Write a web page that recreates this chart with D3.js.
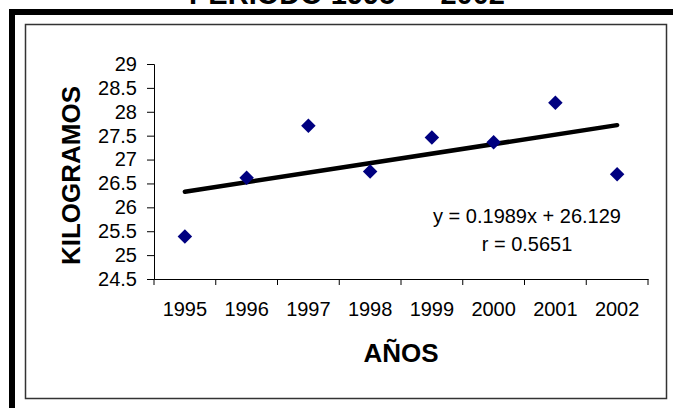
<!DOCTYPE html>
<html>
<head>
<meta charset="utf-8">
<script src="https://cdn.jsdelivr.net/npm/d3@7"></script>
<style>
  body { margin: 0; background: #fff; }
  text { font-family: Arial, "Liberation Sans", sans-serif; }
</style>
</head>
<body>
<script>
var years = ["1995", "1996", "1997", "1998", "1999", "2000", "2001", "2002"];
var kilos = [25.39, 26.62, 27.71, 26.75, 27.46, 27.36, 28.19, 26.69];
var yTicks = [24.5, 25, 25.5, 26, 26.5, 27, 27.5, 28, 28.5, 29];
// trend line coefficients as printed on the chart (x = 1..8)
var slope = 0.1989;
var intercept = 26.129;
var trendLabel = ["y = 0.1989x + 26.129", "r = 0.5651"];

var width = 673, height = 408;
var plot = {left: 154, right: 648, top: 64, bottom: 279};

var svg = d3.select("body").append("svg")
    .attr("width", width)
    .attr("height", height);

// outer thick frame (only top and left are in view)
svg.append("rect")
    .attr("x", 12).attr("y", 12)
    .attr("width", 720).attr("height", 440)
    .attr("fill", "none")
    .attr("stroke", "#000")
    .attr("stroke-width", 6);

// title, mostly cut off at the top
svg.append("text")
    .attr("x", 347).attr("y", 4)
    .attr("text-anchor", "middle")
    .style("font-size", "29px")
    .style("font-weight", "bold")
    .text("PERIODO 1995 — 2002");

// inner chart box
svg.append("rect")
    .attr("x", 25.5).attr("y", 24.5)
    .attr("width", 641).attr("height", 374)
    .attr("fill", "#fff")
    .attr("stroke", "#333")
    .attr("stroke-width", 1.5);

var x = d3.scaleBand()
    .domain(years)
    .range([plot.left, plot.right])
    .padding(0);

var y = d3.scaleLinear()
    .domain([24.5, 29])
    .range([plot.bottom, plot.top]);

// y axis
var yAxis = svg.append("g")
    .attr("transform", "translate(" + plot.left + ",0)")
    .call(d3.axisLeft(y).tickValues(yTicks).tickSize(7).tickPadding(10).tickFormat(d3.format("")));
yAxis.select(".domain").attr("stroke", "#000");
yAxis.selectAll("text").style("font-size", "20px").attr("fill", "#000");

// x axis: labels under category centres, ticks on the boundaries
var xAxis = svg.append("g")
    .attr("transform", "translate(0," + plot.bottom + ")")
    .call(d3.axisBottom(x).tickSize(0).tickPadding(23));
xAxis.select(".domain").attr("stroke", "#000");
xAxis.selectAll("text").style("font-size", "20px").attr("fill", "#000");
xAxis.selectAll(".boundary")
    .data(years.concat([null]))
    .enter()
    .append("line")
    .attr("class", "boundary")
    .attr("x1", function (d, i) { return plot.left + i * x.bandwidth(); })
    .attr("x2", function (d, i) { return plot.left + i * x.bandwidth(); })
    .attr("y1", 0).attr("y2", 6)
    .attr("stroke", "#000");

// axis titles
svg.append("text")
    .attr("transform", "translate(80," + ((plot.top + plot.bottom) / 2 + 4) + ") rotate(-90)")
    .attr("text-anchor", "middle")
    .style("font-size", "26px")
    .style("font-weight", "bold")
    .text("KILOGRAMOS");

svg.append("text")
    .attr("x", (plot.left + plot.right) / 2).attr("y", 362)
    .attr("text-anchor", "middle")
    .style("font-size", "26px")
    .style("font-weight", "bold")
    .text("AÑOS");

// trend line
var cx = function (d) { return x(d) + x.bandwidth() / 2; };
var first = years[0], last = years[years.length - 1];
svg.append("line")
    .attr("x1", cx(first))
    .attr("y1", y(intercept + slope * 1))
    .attr("x2", cx(last))
    .attr("y2", y(intercept + slope * years.length))
    .attr("stroke", "#000")
    .attr("stroke-width", 4.5)
    .attr("stroke-linecap", "round");

// data points
svg.selectAll(".point")
    .data(kilos)
    .enter()
    .append("path")
    .attr("class", "point")
    .attr("d", d3.symbol().type(d3.symbolSquare).size(105))
    .attr("transform", function (d, i) {
        return "translate(" + cx(years[i]) + "," + y(d) + ") rotate(45)";
    })
    .attr("fill", "#000080");

// equation label
svg.selectAll(".eq")
    .data(trendLabel)
    .enter()
    .append("text")
    .attr("class", "eq")
    .attr("x", 527)
    .attr("y", function (d, i) { return 223 + i * 28; })
    .attr("text-anchor", "middle")
    .style("font-size", "20px")
    .text(function (d) { return d; });
</script>
</body>
</html>
